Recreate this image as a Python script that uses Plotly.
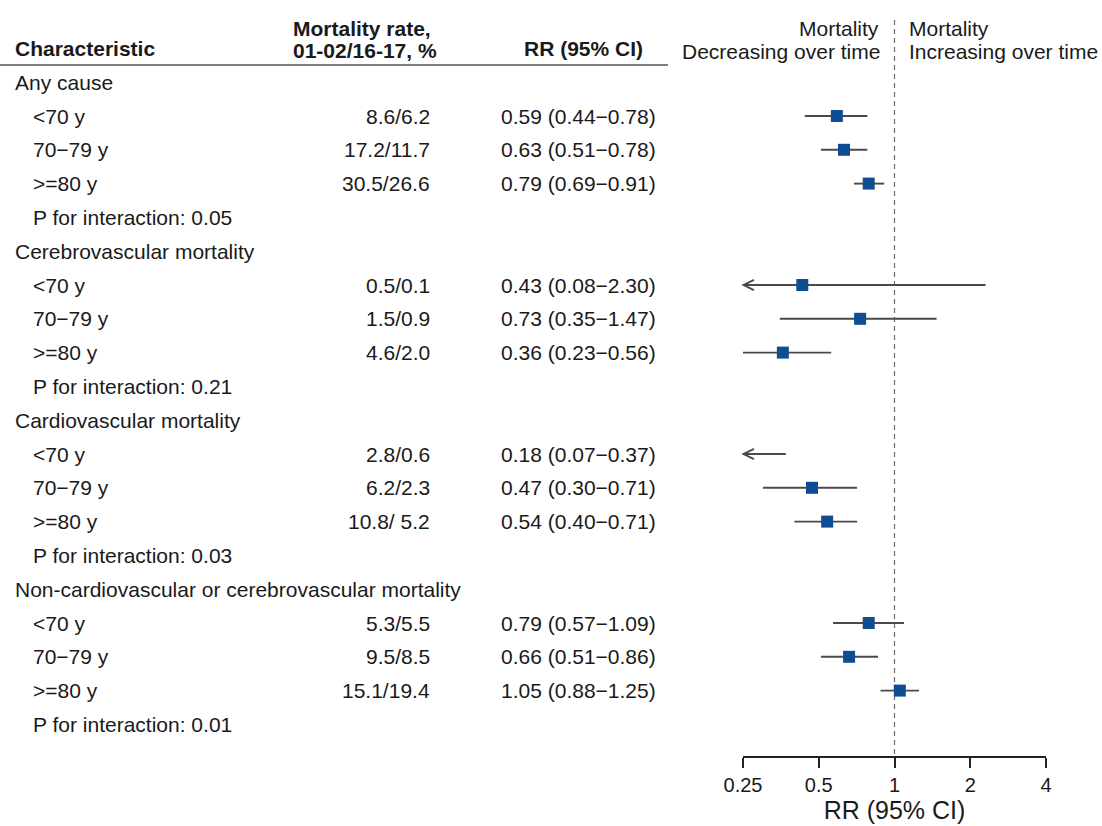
import math
import plotly.graph_objects as go

# ---------------- data ----------------
groups = ["Any cause", "Cerebrovascular mortality", "Cardiovascular mortality",
          "Non-cardiovascular or cerebrovascular mortality"]
ages = ["<70 y", "70\u221279 y", ">=80 y"]
rates = [["8.6/6.2", "17.2/11.7", "30.5/26.6"],
         ["0.5/0.1", "1.5/0.9", "4.6/2.0"],
         ["2.8/0.6", "6.2/2.3", "10.8/ 5.2"],
         ["5.3/5.5", "9.5/8.5", "15.1/19.4"]]
rr = [[0.59, 0.63, 0.79], [0.43, 0.73, 0.36], [0.18, 0.47, 0.54], [0.79, 0.66, 1.05]]
lo = [[0.44, 0.51, 0.69], [0.08, 0.35, 0.23], [0.07, 0.30, 0.40], [0.57, 0.51, 0.88]]
hi = [[0.78, 0.78, 0.91], [2.30, 1.47, 0.56], [0.37, 0.71, 0.71], [1.09, 0.86, 1.25]]
p_int = ["0.05", "0.21", "0.03", "0.01"]
tick_vals = [0.25, 0.5, 1, 2, 4]
tick_text = ["0.25", "0.5", "1", "2", "4"]
x_min, x_max = 0.25, 4

# ---------------- layout helpers ----------------
W, H = 1102, 826
ROW0, ROWH = 82.2, 33.8
FONT = "Liberation Sans, Arial, Helvetica, sans-serif"
TXT = "#1a1a1a"
FS = 21


def py(px):
    return (px - ROW0) / ROWH


def pxx(px):
    return px / W


fig = go.Figure()
ann = []

# row table
row = 0
seg_x, seg_y = [], []
mk_x, mk_y = [], []
arrows = []
for g in range(len(groups)):
    ann.append(dict(text=groups[g], x=pxx(13), y=row, xanchor="left"))
    row += 1
    for a in range(len(ages)):
        ann.append(dict(text=ages[a], x=pxx(31), y=row, xanchor="left"))
        ann.append(dict(text=rates[g][a], x=pxx(432), y=row, xanchor="right"))
        ann.append(dict(text=f"{rr[g][a]:.2f} ({lo[g][a]:.2f}\u2212{hi[g][a]:.2f})",
                        x=pxx(499), y=row, xanchor="left"))
        l = max(lo[g][a], x_min)
        seg_x += [l, hi[g][a], None]
        seg_y += [row, row, None]
        mk_x.append(rr[g][a])
        mk_y.append(row)
        if lo[g][a] < 0.2:
            arrows.append(row)
        row += 1
    ann.append(dict(text=f"P for interaction: {p_int[g]}", x=pxx(31), y=row, xanchor="left"))
    row += 1

annotations = []
for a in ann:
    annotations.append(dict(text=a["text"], x=a["x"], y=a["y"], xref="paper", yref="y",
                            xanchor=a["xanchor"], yanchor="middle", showarrow=False,
                            font=dict(family=FONT, size=FS, color=TXT)))

# headers
hdr = [
    ("<b>Characteristic</b>", 13, 48, "left"),
    ("<b>Mortality rate,</b>", 291, 28, "left"),
    ("<b>01-02/16-17, %</b>", 291, 50, "left"),
    ("<b>RR (95% CI)</b>", 645, 48, "right"),
    ("Mortality", 881, 28, "right"),
    ("Decreasing over time", 882, 51, "right"),
    ("Mortality", 907, 28, "left"),
    ("Increasing over time", 907, 51, "left"),
]
for t, x, y, anc in hdr:
    annotations.append(dict(text=t, x=pxx(x), y=py(y), xref="paper", yref="y",
                            xanchor=anc, yanchor="middle", showarrow=False,
                            font=dict(family=FONT, size=FS, color=TXT)))

# truncation arrows
for r in arrows:
    annotations.append(dict(text="", x=math.log10(x_min * 0.985), y=r, ax=math.log10(0.3), ay=r,
                            xref="x", yref="y", axref="x", ayref="y",
                            showarrow=True, arrowhead=5, arrowsize=1.2, arrowwidth=1.7,
                            arrowcolor="#4a4a4a", standoff=0, startstandoff=0))

# reference line at RR = 1
fig.add_trace(go.Scatter(x=[1, 1], y=[py(20), py(757)], mode="lines",
                         line=dict(color="#6a6a6a", width=1.2, dash="5px,4px"),
                         hoverinfo="skip", showlegend=False))
# CI segments
fig.add_trace(go.Scatter(x=seg_x, y=seg_y, mode="lines",
                         line=dict(color="#4a4a4a", width=1.9),
                         hoverinfo="skip", showlegend=False))
# point estimates
fig.add_trace(go.Scatter(x=mk_x, y=mk_y, mode="markers",
                         marker=dict(symbol="square", size=12, color="#0f4d92",
                                     line=dict(width=0)),
                         showlegend=False))

fig.update_layout(
    width=W, height=H,
    margin=dict(l=0, r=0, t=0, b=0, autoexpand=False),
    paper_bgcolor="white", plot_bgcolor="white",
    annotations=annotations,
    shapes=[dict(type="line", xref="paper", yref="y", x0=0, x1=pxx(668),
                 y0=py(65), y1=py(65), line=dict(color="#555555", width=1.5))],
    xaxis=dict(type="log", range=[math.log10(x_min), math.log10(x_max)],
               domain=[pxx(743), pxx(1046)], anchor="free", position=(H - 757) / H,
               tickvals=tick_vals, ticktext=tick_text, ticks="outside", ticklen=10,
               tickwidth=1.5, tickcolor="#222222", showline=True, linewidth=1.5,
               linecolor="#222222", showgrid=False, zeroline=False,
               tickfont=dict(family=FONT, size=20, color=TXT),
               title=dict(text="RR (95% CI)", font=dict(family=FONT, size=25, color=TXT),
                          standoff=0)),
    yaxis=dict(range=[(H - ROW0) / ROWH, -ROW0 / ROWH], domain=[0, 1],
               visible=False, showgrid=False, zeroline=False),
    showlegend=False,
)

fig.write_html("out.html", config={"displayModeBar": False},
               post_script="document.body.style.margin='0px';")
